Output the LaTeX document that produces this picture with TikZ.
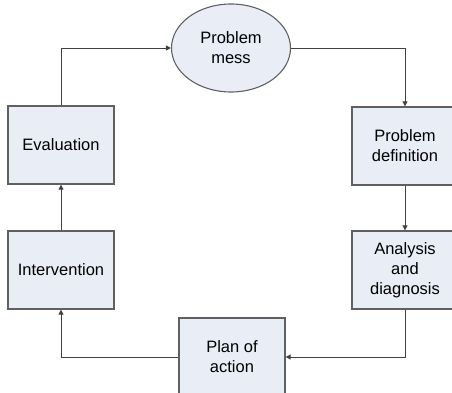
\documentclass[tikz,border=0pt]{standalone}
\usepackage{fontspec}
\setmainfont{Liberation Sans}
\usepackage{xcolor}
\usetikzlibrary{positioning,shapes.geometric,arrows.meta}

\definecolor{boxfill}{HTML}{E8EDF6}
\definecolor{boxline}{HTML}{606060}
\definecolor{arrline}{HTML}{404040}

\begin{document}
\begin{tikzpicture}[
  x=1pt, y=-1pt,
  every node/.style={font=\fontsize{16.5}{20}\selectfont},
  blk/.style={draw=boxline, line width=1.3pt, fill=boxfill,
              minimum width=106pt, minimum height=78pt,
              inner sep=0pt, align=center},
  blob/.style={ellipse, draw=boxline, line width=1.1pt, fill=boxfill,
               minimum width=119pt, minimum height=88pt,
               inner sep=0pt, align=center},
  arr/.style={-{Triangle[length=5pt,width=5pt]}, line width=0.9pt, arrline}
]
\useasboundingbox (0,0) rectangle (452,393);
\clip (0,0) rectangle (452,393);

\node[blob] (mess)   at (231,48)  {Problem\\mess};
\node[blk]  (define) at (405,146) {Problem\\definition};
\node[blk]  (diag)   at (405,270) {Analysis\\and\\diagnosis};
\node[blk]  (plan)   at (232,357) {Plan of\\action};
\node[blk]  (interv) at (61,270)  {Intervention};
\node[blk]  (eval)   at (61,145)  {Evaluation};

%% around the cycle
\draw[arr] (mess.east)   -| (define.north);
\draw[arr] (define.south) -- (diag.north);
\draw[arr] (diag.south)  |- (plan.east);
\draw[arr] (plan.west)   -| (interv.south);
\draw[arr] (interv.north) -- (eval.south);
\draw[arr] (eval.north)  |- (mess.west);

\end{tikzpicture}
\end{document}
